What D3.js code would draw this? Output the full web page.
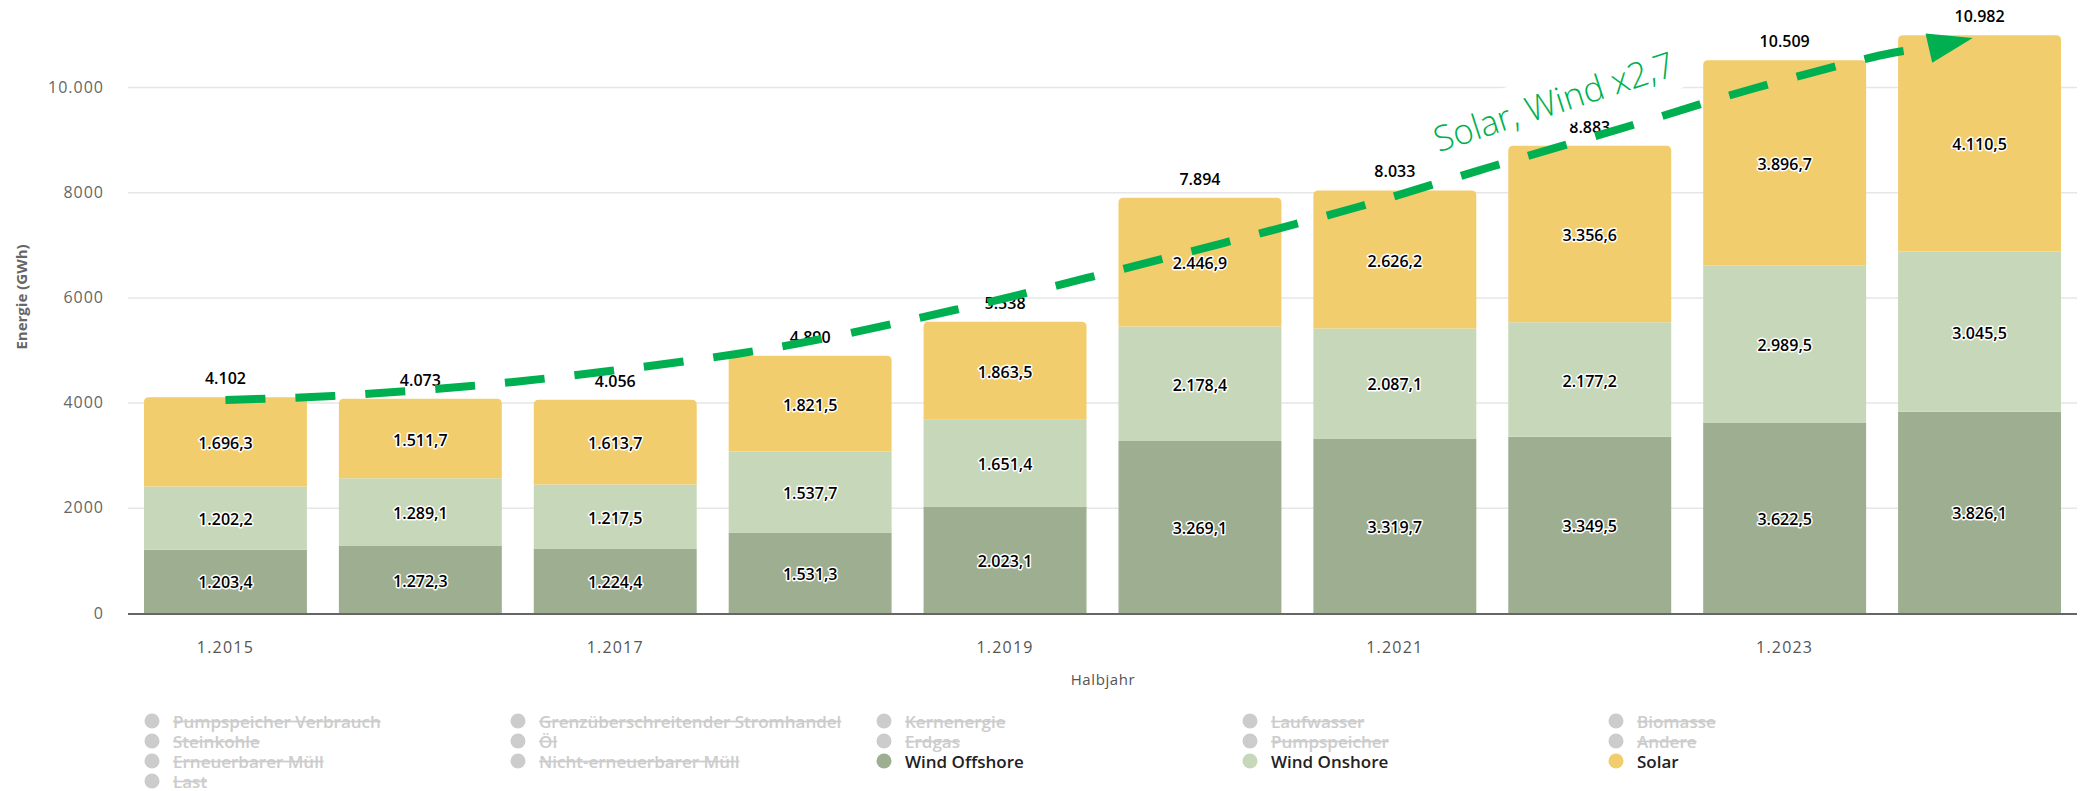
<!DOCTYPE html>
<html lang="de">
<head>
<meta charset="utf-8">
<title>Energie Wind und Solar</title>
<script src="https://cdn.jsdelivr.net/npm/d3@7"></script>
<style>
  html, body { margin: 0; padding: 0; background: #fff; }
  svg { display: block; font-family: "Open Sans", "DejaVu Sans", sans-serif; }
</style>
</head>
<body>
<svg id="chart" width="2082" height="791"></svg>
<script>
// Halbjahre (jeweils erstes Halbjahr)
const categories = ["1.2015", "1.2016", "1.2017", "1.2018", "1.2019", "1.2020", "1.2021", "1.2022", "1.2023", "1.2024"];

// Energie in GWh je Quelle
const windOffshore = [1203.4, 1272.3, 1224.4, 1531.3, 2023.1, 3269.1, 3319.7, 3349.5, 3622.5, 3826.1];
const windOnshore  = [1202.2, 1289.1, 1217.5, 1537.7, 1651.4, 2178.4, 2087.1, 2177.2, 2989.5, 3045.5];
const solar        = [1696.3, 1511.7, 1613.7, 1821.5, 1863.5, 2446.9, 2626.2, 3356.6, 3896.7, 4110.5];
const totals       = [4102, 4073, 4056, 4890, 5538, 7894, 8033, 8883, 10509, 10982];

// Achsenbeschriftungen
const yTicks = [0, 2000, 4000, 6000, 8000, 10000];
const yTickLabels = ["0", "2000", "4000", "6000", "8000", "10.000"];
const xTickLabels = ["1.2015", "1.2017", "1.2019", "1.2021", "1.2023"];

// Legende (Reihenfolge wie im Diagramm, ausgeblendete Reihen grau)
const legendNames = [
  "Pumpspeicher Verbrauch", "Grenzüberschreitender Stromhandel", "Kernenergie", "Laufwasser", "Biomasse",
  "Steinkohle", "Öl", "Erdgas", "Pumpspeicher", "Andere",
  "Erneuerbarer Müll", "Nicht-erneuerbarer Müll", "Wind Offshore", "Wind Onshore", "Solar",
  "Last"
];
const visibleSeries = ["Wind Offshore", "Wind Onshore", "Solar"];

// Trendpfeil: Position in Balken-Index und Wert (GWh)
const trendIndex = [0, 0.55, 1.26, 1.97, 2.84, 3.74, 4.42, 5.12, 5.81, 6.49, 7.17, 7.85, 8.55, 8.74];
const trendValue = [4050, 4125, 4316, 4601, 5057, 5760, 6369, 7034, 7719, 8479, 9221, 9981, 10646, 10741];
const trendTip = { index: 8.965, value: 10932 };
const trendText = "Solar, Wind x2,7";
const trendTextPos = { index: 6.83, value: 9740 };

const colors = {
  "Wind Offshore": "#9eaf91",
  "Wind Onshore": "#c7d8ba",
  "Solar": "#f1cd6e"
};
const green = "#00b050";

const de = d3.formatLocale({ decimal: ",", thousands: ".", grouping: [3], currency: ["", " €"] });
const fmtSeg = de.format(",.1f");
const fmtTotal = de.format(",.0f");

const svg = d3.select("#chart");

const x = d3.scaleBand()
  .domain(categories)
  .range([128, 2077])
  .paddingInner(0.164)
  .paddingOuter(0.082);

const y = d3.scaleLinear().domain([0, 10000]).range([613, 87]);

// Position entlang der Balken (fraktionaler Index -> Pixel)
const xAt = i => x(categories[0]) + x.bandwidth() / 2 + i * x.step();

// Gitterlinien und Y-Achse
const yAxis = d3.axisLeft(y)
  .tickValues(yTicks)
  .tickFormat((d, i) => yTickLabels[i])
  .tickSize(-(2077 - 128))
  .tickPadding(24);

const gy = svg.append("g")
  .attr("transform", "translate(128,0)")
  .call(yAxis);
gy.select(".domain").remove();
gy.selectAll(".tick line")
  .attr("stroke", "#e6e6e6")
  .attr("stroke-width", 1.5)
  .filter(d => d === 0).remove();
gy.selectAll(".tick text")
  .attr("fill", "#666")
  .style("font-size", "16px")
  .style("letter-spacing", "1px")
  .attr("font-family", "'Open Sans', sans-serif");

// Gestapelte Balken
const table = categories.map((c, i) => ({
  cat: c,
  "Wind Offshore": windOffshore[i],
  "Wind Onshore": windOnshore[i],
  "Solar": solar[i]
}));
const keys = ["Wind Offshore", "Wind Onshore", "Solar"];
const stacked = d3.stack().keys(keys)(table);

function roundedTop(x0, y0, w, h, r) {
  r = Math.min(r, h, w / 2);
  return `M${x0},${y0 + h}V${y0 + r}Q${x0},${y0} ${x0 + r},${y0}H${x0 + w - r}Q${x0 + w},${y0} ${x0 + w},${y0 + r}V${y0 + h}Z`;
}

const gBars = svg.append("g");
stacked.forEach((layer, li) => {
  const isTop = li === stacked.length - 1;
  gBars.append("g")
    .selectAll("path")
    .data(layer)
    .join("path")
    .attr("fill", colors[layer.key])
    .attr("d", d => {
      const x0 = x(d.data.cat), w = x.bandwidth();
      const yTop = y(d[1]), h = y(d[0]) - y(d[1]);
      return isTop ? roundedTop(x0, yTop, w, h, 5) : `M${x0},${yTop}h${w}v${h}h${-w}Z`;
    });
});

// X-Achse
const xAxis = d3.axisBottom(x)
  .tickValues(xTickLabels)
  .tickSize(0)
  .tickPadding(28);
const gx = svg.append("g")
  .attr("transform", "translate(0,614)")
  .call(xAxis);
gx.select(".domain")
  .attr("stroke", "#666")
  .attr("stroke-width", 2)
  .attr("d", "M128,0H2077");
gx.selectAll(".tick text")
  .attr("fill", "#555")
  .style("font-size", "16px")
  .style("letter-spacing", "1.2px")
  .attr("font-family", "'Open Sans', sans-serif");

// Segmentbeschriftungen
const gLabels = svg.append("g")
  .attr("font-size", 16)
  .attr("font-weight", 600)
  .attr("text-anchor", "middle");
stacked.forEach(layer => {
  gLabels.append("g")
    .selectAll("text")
    .data(layer)
    .join("text")
    .attr("x", d => x(d.data.cat) + x.bandwidth() / 2)
    .attr("y", d => (y(d[0]) + y(d[1])) / 2 + 1)
    .attr("dominant-baseline", "central")
    .attr("fill", "#000")
    .attr("stroke", "#fff")
    .attr("stroke-width", 3)
    .attr("stroke-linejoin", "round")
    .attr("paint-order", "stroke")
    .text(d => fmtSeg(d[1] - d[0]));
});

// Summen über den Balken
svg.append("g")
  .selectAll("text")
  .data(totals)
  .join("text")
  .attr("x", (d, i) => x(categories[i]) + x.bandwidth() / 2)
  .attr("y", d => y(d) - 13)
  .attr("text-anchor", "middle")
  .attr("font-size", 16)
  .attr("font-weight", 600)
  .attr("fill", "#000")
  .text(d => fmtTotal(d));

// Achsentitel
svg.append("text")
  .attr("transform", "translate(21,297) rotate(-90)")
  .attr("text-anchor", "middle")
  .attr("dominant-baseline", "central")
  .attr("font-size", 15)
  .attr("font-weight", 700)
  .attr("fill", "#666")
  .text("Energie (GWh)");

svg.append("text")
  .attr("x", 1103)
  .attr("y", 679)
  .attr("text-anchor", "middle")
  .attr("dominant-baseline", "central")
  .attr("font-size", 15)
  .attr("letter-spacing", "0.6px")
  .attr("fill", "#555")
  .text("Halbjahr");

// Beschriftung des Trends mit weißem Hintergrund
const tx = xAt(trendTextPos.index) - 3, ty = y(trendTextPos.value);
const gNote = svg.append("g").attr("transform", `translate(${tx},${ty}) rotate(-18)`);
const noteText = gNote.append("text")
  .attr("text-anchor", "middle")
  .attr("dominant-baseline", "central")
  .attr("font-size", 35)
  .attr("font-weight", 300)
  .attr("fill", green)
  .text(trendText);
const bb = noteText.node().getBBox();
gNote.insert("rect", "text")
  .attr("x", bb.x - 8)
  .attr("y", bb.y - 4)
  .attr("width", bb.width + 16)
  .attr("height", bb.height + 8)
  .attr("fill", "#fff");

// Gestrichelter Trendpfeil
const pts = trendIndex.map((v, i) => [xAt(v), y(trendValue[i])]);
svg.append("path")
  .attr("d", d3.line().curve(d3.curveCatmullRom.alpha(0.5))(pts))
  .attr("fill", "none")
  .attr("stroke", green)
  .attr("stroke-width", 8)
  .attr("stroke-dasharray", "40 30");

const base = pts[pts.length - 1];
const tip = [xAt(trendTip.index), y(trendTip.value)];
const dx = tip[0] - base[0], dy = tip[1] - base[1];
const len = Math.hypot(dx, dy);
const px = -dy / len * 15, py = dx / len * 15;
svg.append("path")
  .attr("d", `M${tip[0]},${tip[1]}L${base[0] + px},${base[1] + py}L${base[0] - px},${base[1] - py}Z`)
  .attr("fill", green);

// Legende
const gLegend = svg.append("g").attr("font-size", 17).attr("font-weight", 600);
legendNames.forEach((name, i) => {
  const col = i % 5, row = Math.floor(i / 5);
  const cx = 152 + col * 366, cy = 721 + row * 20;
  const on = visibleSeries.includes(name);
  const item = gLegend.append("g");
  item.append("circle")
    .attr("cx", cx).attr("cy", cy).attr("r", 7.5)
    .attr("fill", on ? colors[name] : "#cccccc");
  item.append("text")
    .attr("x", cx + 21).attr("y", cy)
    .attr("dominant-baseline", "central")
    .attr("fill", on ? "#222" : "#cccccc")
    .attr("text-decoration", on ? null : "line-through")
    .text(name);
});
</script>
</body>
</html>
